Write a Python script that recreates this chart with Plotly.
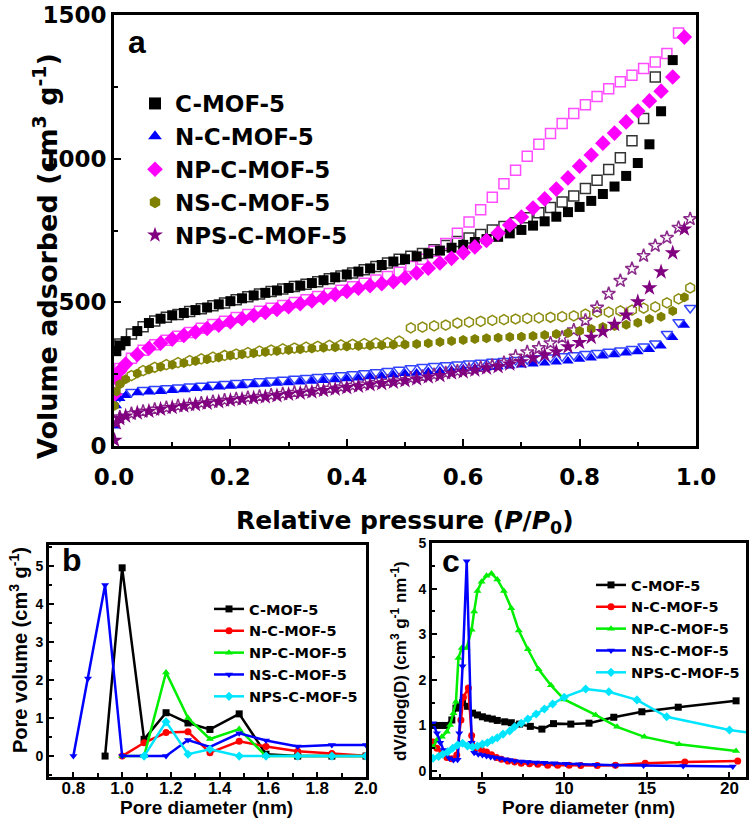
import plotly.graph_objects as go

# ---------------- Panel a: N2 isotherms ----------------
P_ADS = [0.001, 0.004, 0.01, 0.02, 0.04, 0.06, 0.08, 0.10, 0.12, 0.14, 0.16, 0.18, 0.20,
         0.22, 0.24, 0.26, 0.28, 0.30, 0.32, 0.34, 0.36, 0.38, 0.40, 0.42, 0.44, 0.46, 0.48,
         0.50, 0.52, 0.54, 0.56, 0.58, 0.60, 0.62, 0.64, 0.66, 0.68, 0.70, 0.72, 0.74, 0.76,
         0.78, 0.80, 0.82, 0.84, 0.86, 0.88, 0.90, 0.92, 0.94, 0.96, 0.98]
P_DES = [0.01, 0.03, 0.05, 0.07, 0.09, 0.11, 0.13, 0.15, 0.17, 0.19, 0.21, 0.23, 0.25,
         0.27, 0.29, 0.31, 0.33, 0.35, 0.37, 0.39, 0.41, 0.43, 0.45, 0.47, 0.49, 0.51, 0.53,
         0.55, 0.57, 0.59, 0.61, 0.63, 0.65, 0.67, 0.69, 0.71, 0.73, 0.75, 0.77, 0.79, 0.81,
         0.83, 0.85, 0.87, 0.89, 0.91, 0.93, 0.95, 0.97, 0.99]

C_ADS = [250, 330, 350, 365, 400, 428, 443, 455, 463, 473, 482, 493, 504,
         514, 524, 533, 541, 550, 558, 567, 577, 587, 597,
         607, 618, 630, 642, 650, 660, 670, 680, 690, 700,
         710, 720, 728, 740, 752, 767, 782, 798, 814, 832,
         853, 877, 903, 940, 985, 1050, 1165, 1343]
C_DES = [355, 390, 415, 435, 448, 458, 468, 478, 488, 498,
         509, 519, 529, 538, 546, 555, 563, 572, 582, 592,
         602, 613, 625, 637, 650, 660, 670, 683, 698, 712,
         724, 736, 752, 764, 777, 794, 812, 830, 849, 870,
         896, 925, 962, 1003, 1062, 1140, 1284]

N_ADS = [70, 140, 165, 176, 185, 188, 190, 193, 196, 200, 203, 205, 208,
         210, 213, 215, 218, 220, 223, 225, 228, 231, 234,
         237, 241, 244, 248, 252, 254, 258, 261, 264, 268,
         271, 272, 275, 278, 282, 285, 289, 292, 296, 302,
         306, 313, 318, 324, 328, 336, 348, 378, 420]
N_DES = [172, 188, 195, 198, 201, 204, 207, 210, 213, 216,
         219, 222, 225, 228, 231, 234, 237, 240, 243, 246,
         250, 253, 257, 261, 265, 271, 275, 278, 281, 284,
         287, 290, 293, 296, 299, 302, 305, 308, 312, 316,
         320, 324, 328, 332, 338, 346, 357, 390, 431, 480]

NP_ADS = [180, 235, 262, 285, 318, 340, 358, 372, 385, 397, 409, 420, 432,
          443, 454, 465, 475, 485, 495, 505, 516, 527, 538,
          549, 558, 565, 572, 585, 602, 619, 637, 653, 673,
          693, 715, 741, 769, 797, 828, 860, 894, 933, 974,
          1013, 1054, 1089, 1128, 1166, 1201, 1235, 1284, 1423]
NP_DES = [270, 305, 333, 352, 368, 382, 395, 410, 423, 434,
          447, 458, 469, 479, 489, 499, 509, 520, 531, 542,
          554, 566, 578, 590, 605, 625, 650, 678, 705, 740,
          780, 822, 866, 913, 960, 1008, 1050, 1088, 1122, 1157,
          1188, 1216, 1243, 1268, 1290, 1314, 1336, 1366, 1437]

NS_ADS = [140, 190, 215, 232, 252, 266, 276, 283, 289, 296, 302, 308, 315,
          319, 323, 327, 331, 334, 337, 339, 342, 344, 346,
          348, 350, 351, 352, 353, 355, 358, 362, 365, 369,
          372, 375, 377, 379, 380, 383, 386, 390, 393, 400,
          407, 414, 418, 422, 429, 442, 450, 470, 518]
NS_DES = [222, 245, 262, 274, 283, 290, 297, 303, 309, 315,
          320, 325, 330, 334, 338, 341, 344, 347, 350, 352,
          354, 356, 358, 360, 365, 411, 414, 418, 421, 428,
          431, 434, 437, 440, 442, 444, 446, 448, 450, 453,
          459, 466, 466, 470, 473, 480, 484, 498, 512, 550]

NPS_ADS = [20, 80, 95, 104, 115, 121, 128, 134, 139, 144, 149, 154, 159,
           163, 167, 171, 175, 180, 184, 188, 193, 198, 203,
           208, 213, 217, 222, 227, 233, 240, 245, 254, 258,
           264, 271, 276, 285, 293, 306, 317, 328, 345, 360,
           378, 398, 423, 456, 502, 550, 606, 672, 755]
NPS_DES = [100, 112, 120, 127, 133, 139, 144, 149, 154, 159,
           164, 168, 172, 177, 181, 186, 190, 195, 200, 205,
           210, 215, 220, 225, 230, 236, 242, 248, 254, 260,
           266, 273, 280, 290, 312, 327, 341, 358, 378, 403,
           437, 482, 530, 575, 617, 662, 697, 725, 760, 790]

NAMES = ["C-MOF-5", "N-C-MOF-5", "NP-C-MOF-5", "NS-C-MOF-5", "NPS-C-MOF-5"]

# ---------------- Panel b: micropore distribution ----------------
B_C_X = [0.93, 1.00, 1.09, 1.18, 1.27, 1.36, 1.48, 1.59, 1.72, 1.86, 2.00]
B_C_Y = [0, 4.95, 0.44, 1.14, 0.87, 0.70, 1.11, 0.05, 0, 0, 0]
B_N_X = [1.00, 1.09, 1.18, 1.27, 1.36, 1.48, 1.59, 1.72, 1.86, 2.00]
B_N_Y = [0, 0.35, 0.62, 0.64, 0.09, 0.39, 0.25, 0.13, 0.07, 0.01]
B_NP_X = [1.00, 1.09, 1.18, 1.27, 1.36, 1.48, 1.59, 1.72, 1.86, 2.00]
B_NP_Y = [0, 0, 2.2, 1.0, 0.45, 0.71, 0, 0, 0, 0]
B_NS_X = [0.80, 0.86, 0.93, 1.00, 1.09, 1.18, 1.27, 1.36, 1.48, 1.59, 1.72, 1.86, 2.00]
B_NS_Y = [0, 2.04, 4.5, 0, 0, 0, 0.42, 0.24, 0.6, 0.41, 0.25, 0.29, 0.29]
B_NPS_X = [1.09, 1.18, 1.27, 1.36, 1.48, 1.59, 1.72, 1.86, 2.00]
B_NPS_Y = [0, 0.9, 0.05, 0.18, 0, 0, 0, 0, 0]

# ---------------- Panel c: mesopore distribution ----------------
C_C_X = [2.06, 2.45, 2.8, 3.2, 3.45, 3.6, 3.85, 4.15, 4.45, 4.75, 5.05, 5.35, 5.65, 5.95,
         6.4, 6.8, 7.3, 7.95, 8.65, 9.35, 10.4, 11.5, 13.0, 14.7, 16.9, 20.4]
C_C_Y = [1.0, 1.0, 1.0, 1.12, 1.38, 1.43, 1.5, 1.42, 1.27, 1.23, 1.19, 1.16, 1.14, 1.11,
         1.08, 1.06, 1.03, 0.98, 0.92, 1.04, 1.03, 1.05, 1.18, 1.3, 1.4, 1.54]
C_N_X = [2.06, 2.3, 2.6, 2.9, 3.2, 3.5, 3.75, 3.9, 4.2, 4.4, 4.6, 5.0, 5.3, 5.6, 5.9,
         6.2, 6.6, 7.0, 7.4, 7.9, 8.4, 9.0, 9.6, 10.3, 11.0, 12.0, 13.1, 14.9, 17.3, 20.5]
C_N_Y = [0.64, 0.5, 0.4, 0.3, 0.27, 0.35, 1.12, 1.62, 1.82, 0.78, 0.5, 0.46, 0.42, 0.36, 0.3,
         0.26, 0.22, 0.2, 0.17, 0.16, 0.15, 0.13, 0.13, 0.13, 0.12, 0.12, 0.13, 0.17, 0.2, 0.22]
C_NP_X = [2.06, 2.3, 2.6, 2.9, 3.1, 3.3, 3.45, 3.6, 3.8, 4.1, 4.4, 4.55, 4.75, 5.0, 5.3,
          5.6, 5.95, 6.35, 6.8, 7.25, 7.8, 8.45, 9.2, 10.0, 11.9, 13.2, 14.85, 16.95, 20.4]
C_NP_Y = [0.53, 0.68, 0.75, 0.86, 1.01, 1.27, 1.52, 2.48, 2.7, 2.7, 3.1, 3.5, 3.95, 4.15, 4.28,
          4.33, 4.2, 3.95, 3.57, 3.08, 2.67, 2.23, 1.88, 1.57, 1.23, 0.97, 0.75, 0.59, 0.44]
C_NS_X = [2.06, 2.3, 2.5, 2.7, 3.05, 3.3, 3.55, 3.65, 3.85, 4.1, 4.4, 4.55, 4.8, 5.05, 5.3,
          5.55, 5.8, 6.1, 6.4, 6.7, 7.0, 7.4, 7.8, 8.3, 8.8, 9.4, 10.1, 10.9, 11.9, 13.1,
          14.8, 17.2, 20.2]
C_NS_Y = [1.05, 0.83, 0.62, 0.46, 0.28, 0.24, 0.25, 0.83, 2.3, 4.6, 0.62, 0.4, 0.37, 0.35, 0.33,
          0.31, 0.3, 0.28, 0.26, 0.24, 0.22, 0.21, 0.2, 0.19, 0.18, 0.17, 0.16, 0.15, 0.14, 0.13,
          0.12, 0.11, 0.1]
C_NPS_X = [2.06, 2.4, 2.65, 2.95, 3.25, 3.55, 3.85, 4.15, 4.45, 4.75, 5.05, 5.35, 5.65, 5.95,
           6.3, 6.7, 7.0, 7.4, 7.8, 8.3, 8.8, 9.3, 10.0, 11.3, 12.7, 14.4, 16.2, 20.0, 21.6]
C_NPS_Y = [0.28, 0.32, 0.37, 0.42, 0.5, 0.57, 0.61, 0.55, 0.53, 0.55, 0.59, 0.62, 0.68, 0.73,
           0.81, 0.88, 0.97, 1.05, 1.14, 1.25, 1.36, 1.47, 1.62, 1.8, 1.74, 1.56, 1.19, 0.9, 0.82]

FA = "DejaVu Sans"
FB = "Liberation Sans"

fig = go.Figure()

# panel a traces
iso = [
    (C_ADS, C_DES, "#000000", "#333333", "square", "square-open"),
    (N_ADS, N_DES, "#0000FF", "#3344FF", "triangle-up", "triangle-down-open"),
    (NP_ADS, NP_DES, "#FF00FF", "#FF4DFF", "diamond", "square-open"),
    (NS_ADS, NS_DES, "#808000", "#8C8C10", "hexagon", "hexagon-open"),
    (NPS_ADS, NPS_DES, "#800080", "#8A2A8A", "star", "star-open"),
]
for name, (ads, des, c1, c2, s1, s2) in zip(NAMES, iso):
    fig.add_trace(go.Scatter(x=P_DES[:len(des)], y=des, mode="markers", xaxis="x", yaxis="y",
                             marker=dict(symbol=s2, size=10, color=c2, line=dict(width=1.5, color=c2)),
                             showlegend=False))
for i, (name, (ads, des, c1, c2, s1, s2)) in enumerate(zip(NAMES, iso)):
    sz = 12 if s1 in ("diamond", "star") else 10
    fig.add_trace(go.Scatter(x=P_ADS[:len(ads)], y=ads, mode="markers", xaxis="x", yaxis="y",
                             name=name, legend="legend", legendgroup="a%d" % i,
                             marker=dict(symbol=s1, size=sz, color=c1, line=dict(width=0))))

# panel b & c traces
LC = ["#000000", "#FF0000", "#00EE00", "#0000FF", "#00E5FF"]
LS = ["square", "circle", "triangle-up", "triangle-down", "diamond"]
bdata = [(B_C_X, B_C_Y), (B_N_X, B_N_Y), (B_NP_X, B_NP_Y), (B_NS_X, B_NS_Y), (B_NPS_X, B_NPS_Y)]
cdata = [(C_C_X, C_C_Y), (C_N_X, C_N_Y), (C_NP_X, C_NP_Y), (C_NS_X, C_NS_Y), (C_NPS_X, C_NPS_Y)]
for i, (x, y) in enumerate(bdata):
    fig.add_trace(go.Scatter(x=x, y=y, mode="lines+markers", xaxis="x2", yaxis="y2",
                             name=NAMES[i], legend="legend2",
                             line=dict(color=LC[i], width=2.5),
                             marker=dict(symbol=LS[i], size=7, color=LC[i])))
for i, (x, y) in enumerate(cdata):
    fig.add_trace(go.Scatter(x=x, y=y, mode="lines+markers", xaxis="x3", yaxis="y3",
                             name=NAMES[i], legend="legend3",
                             line=dict(color=LC[i], width=2.5),
                             marker=dict(symbol=LS[i], size=7, color=LC[i])))

W, H = 750, 822


def px(v):
    return v / W


def py(v):
    return 1 - v / H


def axis(domain, rng, anchor, tickfont, **kw):
    d = dict(domain=domain, range=rng, anchor=anchor, showline=True, linewidth=3, linecolor="black",
             mirror=True, showgrid=False, zeroline=False, ticks="inside", ticklen=7, tickwidth=2,
             tickcolor="black", tickfont=tickfont, automargin=False)
    d.update(kw)
    return d


fa_tick = dict(family=FA, size=23, color="black", weight="bold")
fb_xtick = dict(family=FB, size=17, color="black", weight="bold")
fb_ytick = dict(family=FB, size=14, color="black", weight="bold")

fig.update_layout(
    width=W, height=H, margin=dict(l=0, r=0, t=0, b=0, autoexpand=False),
    paper_bgcolor="white", plot_bgcolor="white",
    xaxis=axis([px(114), px(696)], [0, 1.0], "y", fa_tick,
               tickvals=[0, 0.2, 0.4, 0.6, 0.8, 1.0], ticktext=["0.0", "0.2", "0.4", "0.6", "0.8", "1.0"],
               minor=dict(dtick=0.1, ticks="inside", ticklen=4, tickwidth=2, tickcolor="black"),
               ticklabelstandoff=8),
    yaxis=axis([py(446), py(15)], [0, 1500], "x", fa_tick,
               tickvals=[0, 500, 1000, 1500],
               minor=dict(dtick=250, ticks="inside", ticklen=4, tickwidth=2, tickcolor="black")),
    xaxis2=axis([px(49), px(366)], [0.7, 2.0], "y2", fb_xtick,
                tickvals=[0.8, 1.0, 1.2, 1.4, 1.6, 1.8, 2.0], ticktext=["0.8", "1.0", "1.2", "1.4", "1.6", "1.8", "2.0"],
                minor=dict(dtick=0.1, ticks="inside", ticklen=4, tickwidth=2, tickcolor="black"), ticklen=5,
                ticklabelstandoff=-6),
    yaxis2=axis([py(777), py(545)], [-0.55, 5.55], "x2", fb_ytick,
                tickvals=[0, 1, 2, 3, 4, 5],
                minor=dict(dtick=0.5, ticks="inside", ticklen=3, tickwidth=2, tickcolor="black"), ticklen=5),
    xaxis3=axis([px(432), px(746)], [2, 21], "y3", fb_xtick,
                tickvals=[5, 10, 15, 20],
                minor=dict(dtick=2.5, tick0=0, ticks="inside", ticklen=3, tickwidth=2, tickcolor="black"), ticklen=5,
                ticklabelstandoff=-6),
    yaxis3=axis([py(777), py(543)], [-0.13, 5], "x3", fb_ytick,
                tickvals=[0, 1, 2, 3, 4, 5],
                minor=dict(dtick=0.5, ticks="inside", ticklen=3, tickwidth=2, tickcolor="black"), ticklen=5),
    legend=dict(x=px(135), y=py(82), xanchor="left", yanchor="top", bgcolor="rgba(0,0,0,0)",
                font=dict(family=FA, size=23, color="black", weight="bold"), tracegroupgap=0,
                itemsizing="constant"),
    legend2=dict(x=px(209), y=py(593), xanchor="left", yanchor="top", bgcolor="rgba(0,0,0,0)",
                 font=dict(family=FA, size=14.5, color="black", weight="bold"), tracegroupgap=0),
    legend3=dict(x=px(591), y=py(569), xanchor="left", yanchor="top", bgcolor="rgba(0,0,0,0)",
                 font=dict(family=FA, size=14.5, color="black", weight="bold"), tracegroupgap=0),
)

ann = [
    dict(text="a", x=px(137), y=py(42), font=dict(family=FB, size=32, weight="bold")),
    dict(text="b", x=px(72), y=py(560), font=dict(family=FB, size=32, weight="bold")),
    dict(text="c", x=px(451), y=py(561), font=dict(family=FB, size=32, weight="bold")),
    dict(text="Relative pressure (<i>P</i>/<i>P</i><sub>0</sub>)", x=px(405), y=py(522),
         font=dict(family=FA, size=25, weight="bold")),
    dict(text="Volume adsorbed (cm<sup>3</sup> g<sup>-1</sup>)", x=px(45), y=py(256), textangle=-90,
         font=dict(family=FA, size=27, weight="bold")),
    dict(text="Pore diameter (nm)", x=px(206), y=py(807), font=dict(family=FB, size=19, weight="bold")),
    dict(text="Pore diameter (nm)", x=px(588), y=py(807), font=dict(family=FB, size=19, weight="bold")),
    dict(text="Pore volume (cm<sup>3</sup> g<sup>-1</sup>)", x=px(18), y=py(650), textangle=-90,
         font=dict(family=FB, size=20, weight="bold")),
    dict(text="dV/dlog(D) (cm<sup>3</sup> g<sup>-1</sup> nm<sup>-1</sup>)", x=px(399), y=py(661), textangle=-90,
         font=dict(family=FB, size=17, weight="bold")),
]
for a in ann:
    a.update(xref="paper", yref="paper", showarrow=False, xanchor="center", yanchor="middle")
    a["font"]["color"] = "black"
fig.update_layout(annotations=ann)

# the page's default 8px body margin would shift the 750x822 figure; remove it
fig.write_html("out.html", config={"displayModeBar": False},
               post_script="document.body.style.margin='0px';")
